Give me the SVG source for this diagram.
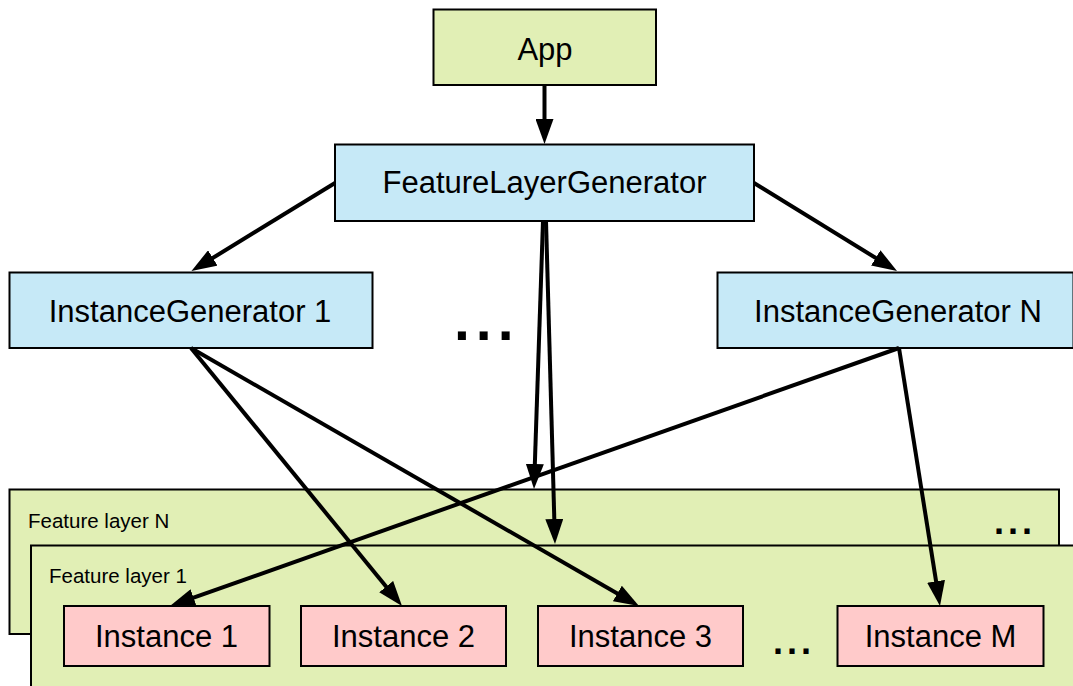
<svg xmlns="http://www.w3.org/2000/svg" width="1073" height="686" viewBox="0 0 1073 686">
<style>
.box{stroke:#000;stroke-width:2}
.green{fill:#e1efb5}
.blue{fill:#c6e9f7}
.pink{fill:#ffcaca}
.t{font-family:"Liberation Sans",Arial,sans-serif;font-size:31px;fill:#000;text-anchor:middle}
.tl{font-family:"Liberation Sans",Arial,sans-serif;font-size:20.5px;fill:#000}
.dots{font-family:"Liberation Sans",Arial,sans-serif;font-weight:bold;fill:#000}
.c{stroke:#000;stroke-width:4;fill:none;marker-end:url(#ah)}
</style>
<defs>
<marker id="ah" markerUnits="userSpaceOnUse" markerWidth="25" markerHeight="18" refX="15" refY="9" orient="auto" viewBox="0 0 25 18">
<path d="M0,0 L25,9 L0,18 z" fill="#000"/>
</marker>
</defs>
<rect width="1073" height="686" fill="#fff"/>
<g id="layerN">
<rect class="box green" x="9.5" y="489.5" width="1049.5" height="144.5"/>
<text class="tl" x="28" y="528">Feature layer N</text>
<text class="dots" x="994" y="534" font-size="36" letter-spacing="4">...</text>
</g>
<g id="layer1">
<rect class="box green" x="31" y="545.5" width="1060" height="160"/>
<text class="tl" x="49" y="583">Feature layer 1</text>
<text class="dots" x="773" y="654" font-size="36" letter-spacing="4">...</text>
</g>
<g id="app">
<rect class="box green" x="433.5" y="9.5" width="222.5" height="75.5"/>
<text class="t" x="545" y="60">App</text>
</g>
<g id="flg">
<rect class="box blue" x="335" y="144.5" width="419" height="76.5"/>
<text class="t" x="544.5" y="193">FeatureLayerGenerator</text>
</g>
<g id="ig1">
<rect class="box blue" x="9.5" y="272.5" width="363" height="75.5"/>
<text class="t" x="190" y="322">InstanceGenerator 1</text>
</g>
<g id="ellipsis">
<text class="dots" x="454" y="340" font-size="57" letter-spacing="6">...</text>
</g>
<g id="ign">
<rect class="box blue" x="717.5" y="272.5" width="356" height="75.5"/>
<text class="t" x="898" y="322">InstanceGenerator N</text>
</g>
<g id="inst1">
<rect class="box pink" x="64" y="606" width="205.5" height="60"/>
<text class="t" x="166.5" y="647">Instance 1</text>
</g>
<g id="inst2">
<rect class="box pink" x="301" y="606" width="205" height="60"/>
<text class="t" x="403.5" y="647">Instance 2</text>
</g>
<g id="inst3">
<rect class="box pink" x="538" y="606" width="205" height="60"/>
<text class="t" x="640.5" y="647">Instance 3</text>
</g>
<g id="instM">
<rect class="box pink" x="837.5" y="606" width="206" height="60"/>
<text class="t" x="940.5" y="647">Instance M</text>
</g>
<g id="connectors">
<line class="c" x1="544.5" y1="85" x2="544.5" y2="134"/>
<line class="c" x1="335" y1="183" x2="200" y2="265.8"/>
<line class="c" x1="754" y1="183" x2="888.5" y2="265.8"/>
<line class="c" x1="543" y1="221" x2="534.34" y2="479"/>
<line class="c" x1="546" y1="221" x2="554.72" y2="534"/>
<line class="c" x1="191" y1="348" x2="395.67" y2="598.26"/>
<line class="c" x1="191" y1="348" x2="630.33" y2="601.01"/>
<line class="c" x1="899" y1="348" x2="179.43" y2="602.66"/>
<line class="c" x1="899" y1="348" x2="938.43" y2="596.12"/>
</g>
</svg>
